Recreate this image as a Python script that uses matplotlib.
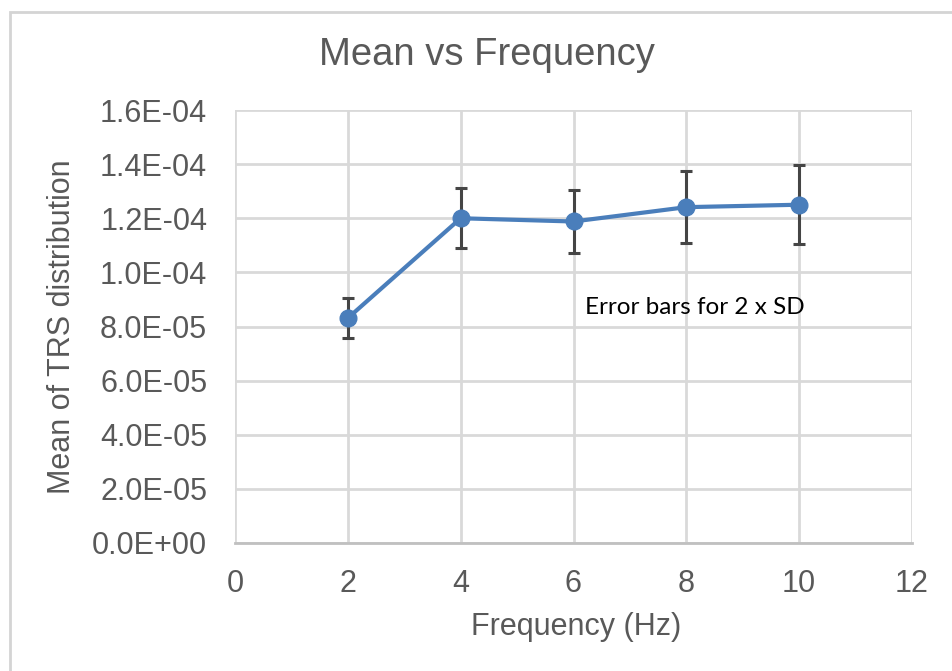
import matplotlib.pyplot as plt
from matplotlib.patches import Rectangle
from matplotlib.ticker import FuncFormatter

# data
freq = [2, 4, 6, 8, 10]
mean_trs = [8.31e-05, 1.200e-04, 1.188e-04, 1.241e-04, 1.250e-04]
err_2sd = [0.74e-05, 1.11e-05, 1.15e-05, 1.32e-05, 1.46e-05]

x_ticks = [0, 2, 4, 6, 8, 10, 12]
y_ticks = [0, 2e-5, 4e-5, 6e-5, 8e-5, 1.0e-4, 1.2e-4, 1.4e-4, 1.6e-4]

text_gray = '#595959'
plt.rcParams['font.family'] = ['Liberation Sans', 'DejaVu Sans']

W, H = 952, 671
fig = plt.figure(figsize=(W / 100, H / 100), dpi=100)
# light chart-area border (Excel style)
fig.patches.append(Rectangle((10 / W, -0.01), 1.0, 1 - 12 / H + 0.01,
                             transform=fig.transFigure, fill=False,
                             edgecolor='#d4d4d4', linewidth=2))

ax = fig.add_axes([235 / W, 1 - 543 / H, (912 - 235) / W, (543 - 110) / H])

ax.errorbar(freq, mean_trs, yerr=err_2sd, color='#4a7ebb', linewidth=3,
            marker='o', markersize=12, ecolor='#454545', elinewidth=2.2,
            capsize=4.5, capthick=2.2, zorder=3)

ax.set_xlim(0, 12)
ax.set_ylim(0, 1.6e-4)
ax.set_xticks(x_ticks)
ax.set_yticks(y_ticks)
ax.yaxis.set_major_formatter(FuncFormatter(lambda v, p: '%.1E' % v))
ax.tick_params(axis='both', length=0, labelsize=22, colors=text_gray)
ax.tick_params(axis='x', pad=19)
ax.tick_params(axis='y', pad=20)
ax.grid(True, color='#d9d9d9', linewidth=2)
ax.set_axisbelow(True)
for s in ['top', 'right', 'left']:
    ax.spines[s].set_visible(False)
ax.spines['bottom'].set_color('#c0c0c0')
ax.spines['bottom'].set_linewidth(2)

fig.text(487 / W, 1 - 55 / H, 'Mean vs Frequency', fontsize=27.5, color=text_gray,
         ha='center', va='center')

ax.set_xlabel('Frequency (Hz)', fontsize=22, color=text_gray)
ax.xaxis.label.set_va('center')
ax.xaxis.set_label_coords((576 - 235) / 677, (543 - 627) / 433)
ax.set_ylabel('Mean of TRS distribution', fontsize=22, color=text_gray)
ax.yaxis.label.set_va('center')
ax.yaxis.set_label_coords((62 - 235) / 677, (543 - 327) / 433)

ax.text(585 / W, 1 - 307 / H, 'Error bars for 2 x SD', transform=fig.transFigure,
        fontsize=17.5, family=['Lato', 'DejaVu Sans'], color='black', va='center')

fig.savefig('out.png', dpi=100)
